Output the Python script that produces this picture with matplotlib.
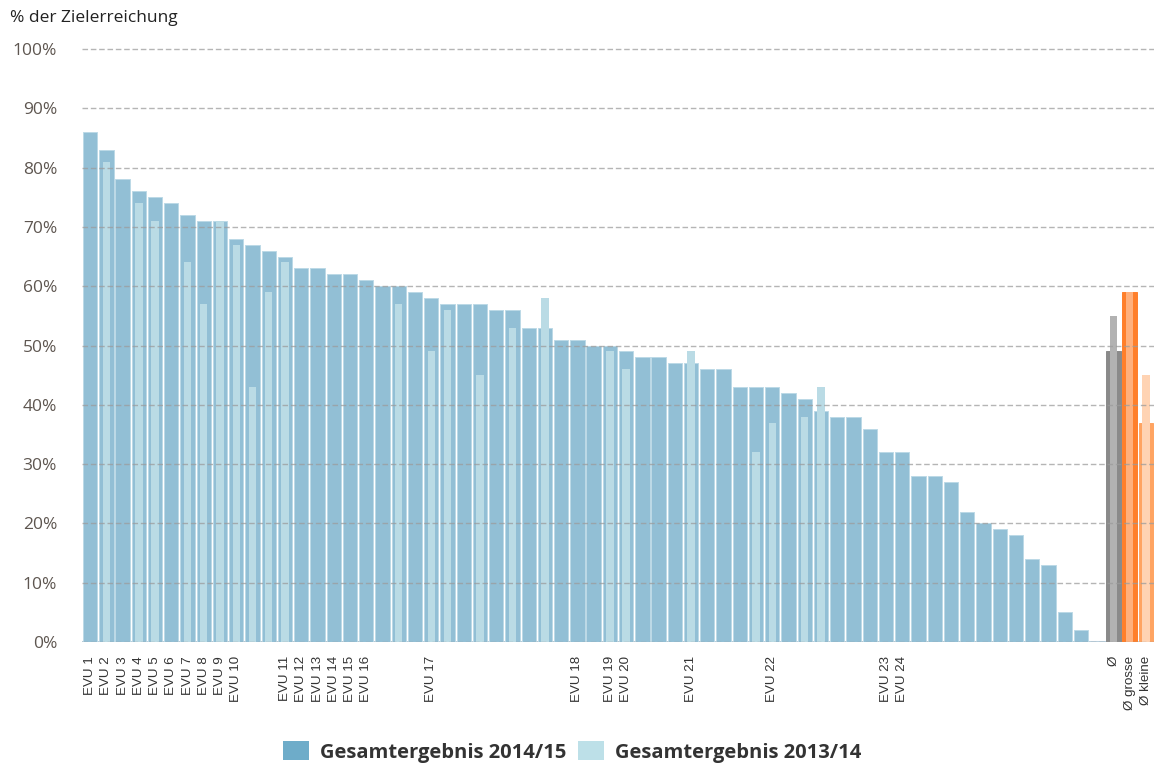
import matplotlib
matplotlib.use("Agg")
import numpy as np
from matplotlib import pyplot as plt
from matplotlib.patches import Patch

plt.rcParams["font.family"] = ["Open Sans", "DejaVu Sans"]

# Gesamtergebnis 2014/15, one value per EVU, sorted (last slot is empty)
result_2015 = [
    86, 83, 78, 76, 75, 74, 72, 71, 71, 68, 67, 66, 65, 63, 63, 62, 62, 61,
    60, 60, 59, 58, 57, 57, 57, 56, 56, 53, 53, 51, 51, 50, 50, 49, 48, 48,
    47, 47, 46, 46, 43, 43, 43, 42, 41, 39, 38, 38, 36, 32, 32, 28, 28, 27,
    22, 20, 19, 18, 14, 13, 5, 2, 0,
]
# Gesamtergebnis 2013/14 (None = not taking part in 2013/14)
result_2014 = [
    None, 81, None, 74, 71, None, 64, 57, 71, 67, 43, 59, 64, None, None,
    None, None, None, None, 57, None, 49, 56, None, 45, None, 53, None, 58,
    None, None, None, 49, 46, None, None, None, 49, None, None, None, 32, 37,
    None, 38, 43, None, None, None, None, None, None, None, None, None, None,
    None, None, None, None, None, None, None,
]
evu_labels = [
    "EVU 1", "EVU 2", "EVU 3", "EVU 4", "EVU 5", "EVU 6", "EVU 7", "EVU 8",
    "EVU 9", "EVU 10", "", "", "EVU 11", "EVU 12", "EVU 13", "EVU 14",
    "EVU 15", "EVU 16", "", "", "", "EVU 17", "", "", "", "", "", "", "", "",
    "EVU 18", "", "EVU 19", "EVU 20", "", "", "", "EVU 21", "", "", "", "",
    "EVU 22", "", "", "", "", "", "", "EVU 23", "EVU 24", "", "", "", "", "",
    "", "", "", "", "", "", "",
]

avg_labels = ["Ø", "Ø grosse", "Ø kleine"]
avg_2015 = [49, 59, 37]
avg_2014 = [55, 59, 45]

values_2015 = result_2015 + avg_2015
values_2014 = result_2014 + avg_2014
labels = evu_labels + avg_labels
x = np.arange(len(values_2015))

outer_colors = ["#92bfd5"] * len(result_2015) + ["#8a8a8a", "#ff7f2a", "#ffa462"]
inner_colors = ["#badbe5"] * len(result_2014) + ["#b2b2b2", "#ffb07c", "#ffd3b3"]
edge_colors = ["#bcd9e6"] * len(result_2015) + ["#8a8a8a", "#ff7f2a", "#ffa462"]

fig = plt.figure(figsize=(11.54, 7.64), dpi=100)
px = 5.93  # pixels per percent
top_pct = 101
ax = fig.add_axes([
    82 / 1154,
    1 - 642 / 764,
    1 - 82 / 1154,
    top_pct * px / 764,
])

ax.bar(x, values_2015, width=0.88, color=outer_colors,
       edgecolor=edge_colors, linewidth=0.7, zorder=1)

xi = [i for i, v in enumerate(values_2014) if v is not None]
ax.bar(xi, [values_2014[i] for i in xi], width=0.45,
       color=[inner_colors[i] for i in xi], linewidth=0, zorder=1.5)

ax.axhline(0, color="#b9cfdd", lw=2.2, zorder=0.8)
for yv in range(0, 101, 10):
    ax.axhline(yv, color="#9c9c9c", lw=1.0, ls=(0, (4, 2)), alpha=0.75, zorder=2.5)

ax.set_xlim(-0.5, 65.5)
ax.set_ylim(0, top_pct)
ax.set_yticks(range(0, 101, 10))
ax.set_yticklabels([f"{v}%" for v in range(0, 101, 10)])
ax.set_xticks(x)
ax.set_xticklabels(labels, rotation=90, fontsize=9.6, color="#333333",
                   family=["Liberation Sans", "DejaVu Sans"])
ax.tick_params(axis="y", length=0, pad=18, labelsize=12.5, labelcolor="#5e5650")
ax.tick_params(axis="x", length=0, pad=10)
for s in ax.spines.values():
    s.set_visible(False)

fig.text(10 / 1154, 1 - 18 / 764, "% der Zielerreichung", fontsize=12.5,
         color="#222222", va="center", ha="left")

handles = [
    Patch(facecolor="#6eacc9", edgecolor="none", label="Gesamtergebnis 2014/15"),
    Patch(facecolor="#bde0e8", edgecolor="none", label="Gesamtergebnis 2013/14"),
]
fig.legend(handles=handles, loc="center", bbox_to_anchor=(572 / 1154, 1 - 752 / 764),
           ncol=2, frameon=False, handlelength=1.3, handleheight=1.05,
           handletextpad=0.55, columnspacing=0.55,
           prop={"family": ["Open Sans", "DejaVu Sans"], "weight": "bold", "size": 14.5},
           labelcolor="#333333")

fig.savefig("out.png", dpi=100)
